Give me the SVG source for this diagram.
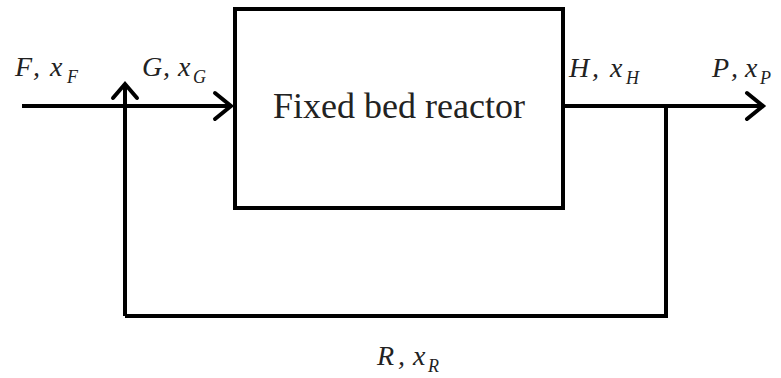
<svg xmlns="http://www.w3.org/2000/svg" width="781" height="378" viewBox="0 0 781 378">
<style>
.ln{stroke:#000;stroke-width:4;fill:none}
.ah{stroke:#000;stroke-width:4;fill:none;stroke-linecap:round;stroke-linejoin:miter}
.lb{font-family:"Liberation Serif","Times New Roman",serif;font-style:italic;font-size:28px;fill:#222}
.sb{font-size:18px}
.tt{font-family:"Liberation Serif","Times New Roman",serif;font-size:36px;fill:#222}
</style>
<g id="reactor">
<rect x="235" y="9" width="328" height="199" class="ln"/>
<text x="399" y="118" text-anchor="middle" class="tt">Fixed bed reactor</text>
</g>
<g id="connectors">
<line x1="22" y1="106" x2="231" y2="106" class="ln"/>
<polyline points="215,93 231,106 215,119" class="ah"/>
<polyline points="125,316 125,84" class="ln"/>
<polyline points="113,98 125,84 137,98" class="ah"/>
<line x1="125" y1="316" x2="668" y2="316" class="ln"/>
<line x1="666" y1="106" x2="666" y2="318" class="ln"/>
<line x1="563" y1="106" x2="763" y2="106" class="ln"/>
<polyline points="747,93 763,106 747,119" class="ah"/>
</g>
<g id="labels">
<text y="76" class="lb"><tspan x="15">F</tspan><tspan x="33">,</tspan><tspan x="50">x</tspan><tspan x="67" dy="7" class="sb">F</tspan></text>
<text y="76" class="lb"><tspan x="142">G</tspan><tspan x="163">,</tspan><tspan x="178">x</tspan><tspan x="193" dy="7" class="sb">G</tspan></text>
<text y="77" class="lb"><tspan x="569">H</tspan><tspan x="592">,</tspan><tspan x="610">x</tspan><tspan x="626" dy="7" class="sb">H</tspan></text>
<text y="77" class="lb"><tspan x="712">P</tspan><tspan x="731">,</tspan><tspan x="745">x</tspan><tspan x="760" dy="7" class="sb">P</tspan></text>
<text y="365" class="lb"><tspan x="377">R</tspan><tspan x="398">,</tspan><tspan x="413">x</tspan><tspan x="428" dy="7" class="sb">R</tspan></text>
</g>
</svg>
